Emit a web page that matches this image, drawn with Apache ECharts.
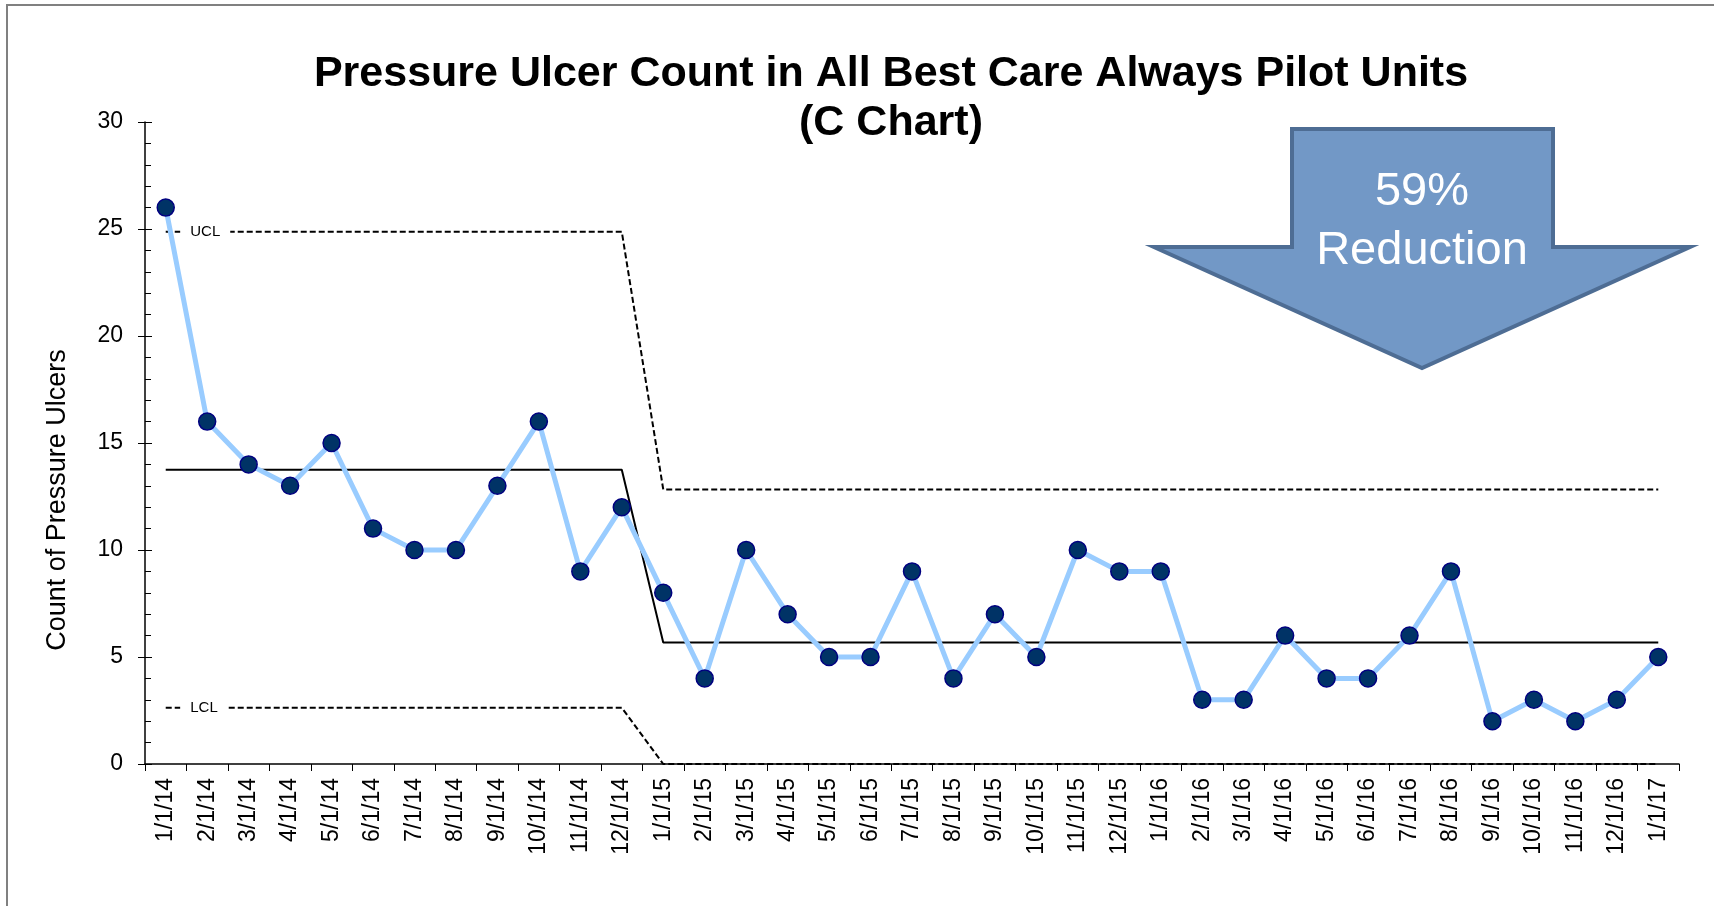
<!DOCTYPE html>
<html>
<head>
<meta charset="utf-8">
<script src="https://cdn.jsdelivr.net/npm/echarts@6/dist/echarts.min.js"></script>
<style>
  html, body { margin: 0; padding: 0; background: #fff; }
  #chart { width: 1714px; height: 906px; }
</style>
</head>
<body>
<div id="chart"></div>
<script>
// months on the x axis
const months = [
    "1/1/14", "2/1/14", "3/1/14", "4/1/14", "5/1/14", "6/1/14",
    "7/1/14", "8/1/14", "9/1/14", "10/1/14", "11/1/14", "12/1/14",
    "1/1/15", "2/1/15", "3/1/15", "4/1/15", "5/1/15", "6/1/15",
    "7/1/15", "8/1/15", "9/1/15", "10/1/15", "11/1/15", "12/1/15",
    "1/1/16", "2/1/16", "3/1/16", "4/1/16", "5/1/16", "6/1/16",
    "7/1/16", "8/1/16", "9/1/16", "10/1/16", "11/1/16", "12/1/16",
    "1/1/17"
];

// pressure ulcer counts
const counts = [
    26, 16, 14, 13, 15, 11, 10, 10, 13, 16, 9, 12,
    8, 4, 10, 7, 5, 5, 9, 4, 7, 5, 10, 9,
    9, 3, 3, 6, 4, 4, 6, 9, 2, 3, 2, 3,
    5
];

// control limits
const centerLine = [
    13.75, 13.75, 13.75, 13.75, 13.75, 13.75, 13.75, 13.75, 13.75, 13.75, 13.75, 13.75,
    5.68, 5.68, 5.68, 5.68, 5.68, 5.68, 5.68, 5.68, 5.68, 5.68, 5.68, 5.68,
    5.68, 5.68, 5.68, 5.68, 5.68, 5.68, 5.68, 5.68, 5.68, 5.68, 5.68, 5.68,
    5.68
];
const upperLimit = [
    24.87, 24.87, 24.87, 24.87, 24.87, 24.87, 24.87, 24.87, 24.87, 24.87, 24.87, 24.87,
    12.83, 12.83, 12.83, 12.83, 12.83, 12.83, 12.83, 12.83, 12.83, 12.83, 12.83, 12.83,
    12.83, 12.83, 12.83, 12.83, 12.83, 12.83, 12.83, 12.83, 12.83, 12.83, 12.83, 12.83,
    12.83
];
const lowerLimit = [
    2.63, 2.63, 2.63, 2.63, 2.63, 2.63, 2.63, 2.63, 2.63, 2.63, 2.63, 2.63,
    0, 0, 0, 0, 0, 0, 0, 0, 0, 0, 0, 0,
    0, 0, 0, 0, 0, 0, 0, 0, 0, 0, 0, 0,
    0
];

const FONT = '"Liberation Sans", Arial, sans-serif';

// put the UCL / LCL tag on the first point of a limit line
function limitData(values, tag) {
    return values.map((v, i) => i === 0 ? {
        value: v,
        label: {
            show: true,
            position: "right",
            distance: 14,
            formatter: tag,
            color: "#000",
            fontSize: 15,
            fontFamily: FONT,
            backgroundColor: "#fff",
            padding: [2, 10]
        }
    } : v);
}

function limitSeries(name, values, dashed) {
    return {
        name: name,
        type: "line",
        data: values,
        symbol: "circle",
        symbolSize: 1,
        showSymbol: true,
        itemStyle: { color: "transparent" },
        lineStyle: { color: "#000", width: 2, type: dashed ? [6, 3] : "solid" },
        clip: false,
        silent: true,
        emphasis: { disabled: true }
    };
}

let chart = echarts.init(document.getElementById("chart"));
chart.setOption({
    animation: false,
    textStyle: { fontFamily: FONT },
    grid: { left: 145, right: 35, top: 122, bottom: 142 },
    xAxis: {
        type: "category",
        data: months,
        boundaryGap: true,
        axisLine: { lineStyle: { color: "#000", width: 1.5 } },
        axisTick: { show: true, length: 7, lineStyle: { color: "#000" } },
        axisLabel: { rotate: 90, interval: 0, fontSize: 23, color: "#000", margin: 14 }
    },
    yAxis: [{
        type: "value",
        min: 0,
        max: 30,
        interval: 5,
        position: "left",
        splitLine: { show: false },
        axisLine: { show: true, lineStyle: { color: "#000", width: 1.5 } },
        axisTick: { show: true, length: 7, lineStyle: { color: "#000" } },
        axisLabel: { fontSize: 23, color: "#000", margin: 22 }
    }, {
        type: "value",
        min: 0,
        max: 30,
        interval: 5,
        position: "left",
        splitLine: { show: false },
        axisLine: { show: false },
        axisLabel: { show: false },
        axisTick: { show: true, inside: true, length: 7, lineStyle: { color: "#000" } },
        minorTick: { show: true, splitNumber: 5, length: 6, lineStyle: { color: "#000" } }
    }],
    graphic: [
        {
            type: "rect",
            shape: { x: 7, y: 5, width: 1800, height: 1000 },
            style: { fill: "none", stroke: "#808080", lineWidth: 2 },
            silent: true
        },
        {
            type: "text",
            x: 891,
            y: 99,
            style: {
                text: "Pressure Ulcer Count in All Best Care Always Pilot Units\n(C Chart)",
                font: 'bold 43px "Liberation Sans", Arial, sans-serif',
                lineHeight: 49,
                fill: "#000",
                align: "center",
                verticalAlign: "middle"
            }
        },
        {
            // y axis title, sits lower than the axis middle in the original
            type: "text",
            x: 58,
            y: 500,
            rotation: Math.PI / 2,
            style: {
                text: "Count of Pressure Ulcers",
                font: '27px "Liberation Sans", Arial, sans-serif',
                fill: "#000",
                align: "center",
                verticalAlign: "middle"
            }
        },
        {
            type: "polygon",
            shape: {
                points: [
                    [1292, 129], [1553, 129], [1553, 247], [1690, 247],
                    [1422, 368], [1154, 247], [1292, 247]
                ]
            },
            style: { fill: "#7298C6", stroke: "#4E6D94", lineWidth: 4, lineJoin: "miter" },
            silent: true
        },
        {
            type: "text",
            x: 1422,
            y: 192,
            style: {
                text: "59%",
                font: '47px "Liberation Sans", Arial, sans-serif',
                fill: "#fff",
                align: "center",
                verticalAlign: "middle"
            }
        },
        {
            type: "text",
            x: 1422,
            y: 251,
            style: {
                text: "Reduction",
                font: '47px "Liberation Sans", Arial, sans-serif',
                fill: "#fff",
                align: "center",
                verticalAlign: "middle"
            }
        }
    ],
    series: [
        limitSeries("UCL", limitData(upperLimit, "UCL"), true),
        limitSeries("LCL", limitData(lowerLimit, "LCL"), true),
        limitSeries("CL", centerLine, false),
        {
            name: "Count",
            type: "line",
            data: counts,
            symbol: "circle",
            symbolSize: 17,
            itemStyle: { color: "#003366", borderColor: "#000080", borderWidth: 1.5 },
            lineStyle: { color: "#99CCFF", width: 5 },
            emphasis: { disabled: true }
        }
    ]
});
</script>
</body>
</html>
